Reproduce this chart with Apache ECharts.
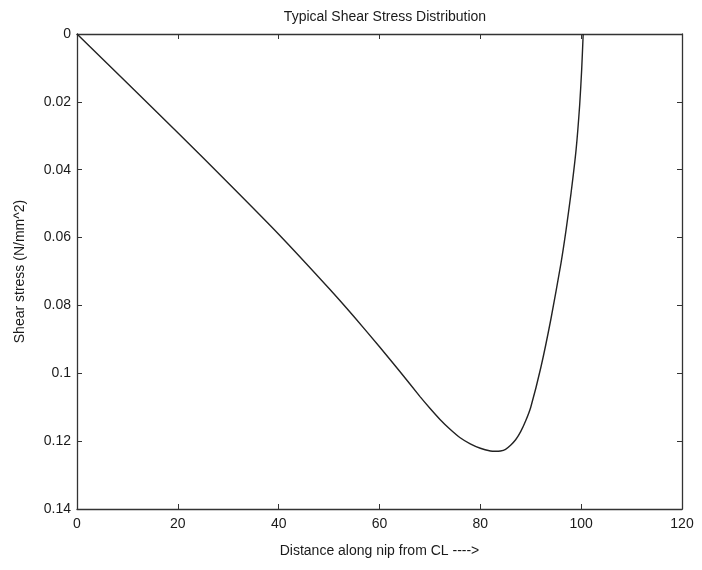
<!DOCTYPE html>
<html>
<head>
<meta charset="utf-8">
<script src="https://cdn.jsdelivr.net/npm/echarts@6/dist/echarts.min.js"></script>
<style>
  html, body { margin: 0; padding: 0; background: #fff; }
  #chart { width: 702px; height: 570px; }
</style>
</head>
<body>
<div id="chart"></div>
<script>
// distance along nip (x) and shear stress (y)
const distance = [0, 10, 20, 30, 40, 50, 55, 60, 64, 68, 70, 72, 74, 76, 78, 80, 82, 83, 84, 85, 86, 87, 88, 89, 90, 92, 94, 96, 97, 98, 99, 99.7, 100.1, 100.4]
const shear = [0, 0.0145, 0.0291, 0.0439, 0.059, 0.075, 0.0834, 0.0922, 0.0994, 0.1068, 0.1103, 0.1136, 0.1165, 0.119, 0.1208, 0.1221, 0.1229, 0.123, 0.1229, 0.1224, 0.1212, 0.1196, 0.1172, 0.114, 0.11, 0.0983, 0.084, 0.0675, 0.0578, 0.0468, 0.034, 0.021, 0.0105, 0]

const font = 'Liberation Sans, Arial, sans-serif'
const textColor = '#1a1a1a'

const chart = echarts.init(document.getElementById('chart'))

const tickIn = { show: true, inside: true, length: 5, lineStyle: { color: '#333', width: 1 } }
const axisLine = { show: true, onZero: false, lineStyle: { color: '#333', width: 1.3 } }

const option = {
  animation: false,
  title: {
    text: 'Typical Shear Stress Distribution',
    left: 380,
    textAlign: 'center',
    top: 5,
    textStyle: { fontFamily: font, fontSize: 14, fontWeight: 'normal', color: textColor }
  },
  grid: { left: 77, right: 20, top: 34, bottom: 61 },
  xAxis: [
    {
      type: 'value',
      min: 0,
      max: 120,
      interval: 20,
      name: 'Distance along nip from CL ---->',
      nameLocation: 'middle',
      nameGap: 35,
      nameTextStyle: { fontFamily: font, fontSize: 14, color: textColor },
      axisLine: axisLine,
      axisTick: tickIn,
      axisLabel: { fontFamily: font, fontSize: 14, color: textColor, margin: 8 },
      splitLine: { show: false }
    },
    {
      type: 'value',
      position: 'top',
      min: 0,
      max: 120,
      interval: 20,
      axisLine: axisLine,
      axisTick: tickIn,
      axisLabel: { show: false },
      splitLine: { show: false }
    }
  ],
  yAxis: [
    {
      type: 'value',
      min: 0,
      max: 0.14,
      interval: 0.02,
      inverse: true,
      name: 'Shear stress (N/mm^2)',
      nameLocation: 'middle',
      nameGap: 50,
      nameTextStyle: { fontFamily: font, fontSize: 14, color: textColor },
      axisLine: axisLine,
      axisTick: tickIn,
      axisLabel: { fontFamily: font, fontSize: 14, color: textColor, margin: 6 },
      splitLine: { show: false }
    },
    {
      type: 'value',
      position: 'right',
      min: 0,
      max: 0.14,
      interval: 0.02,
      inverse: true,
      axisLine: axisLine,
      axisTick: tickIn,
      axisLabel: { show: false },
      splitLine: { show: false }
    }
  ],
  series: [
    {
      name: 'Shear stress',
      type: 'line',
      data: distance.map((d, i) => [d, shear[i]]),
      smooth: 0.2,
      showSymbol: false,
      lineStyle: { color: '#222', width: 1.4 }
    }
  ]
}

chart.setOption(option)
</script>
</body>
</html>
